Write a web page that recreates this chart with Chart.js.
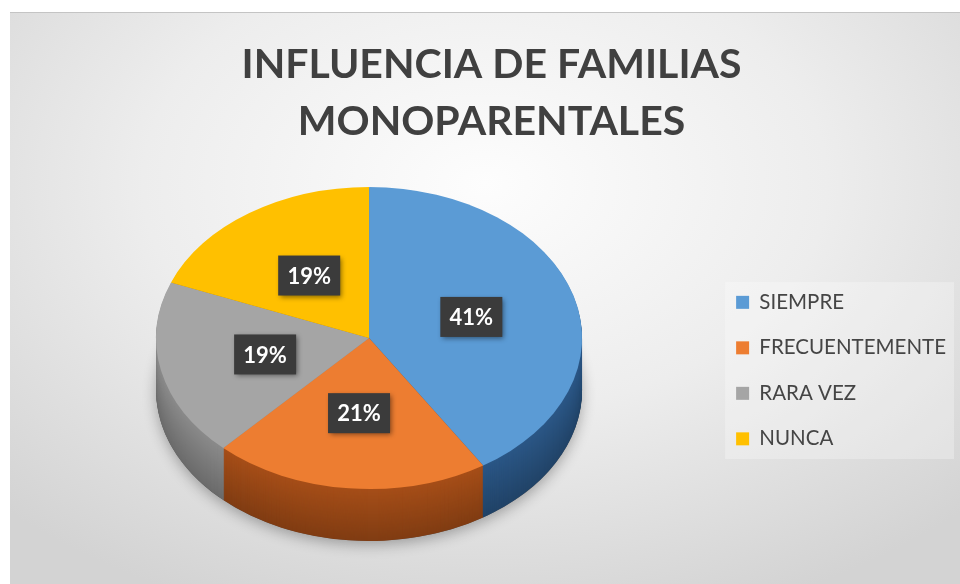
<!DOCTYPE html>
<html><head><meta charset="utf-8">
<script src="https://cdn.jsdelivr.net/npm/chart.js@4.4.1/dist/chart.umd.min.js"></script>
<style>
html,body{margin:0;padding:0;background:#fff;width:960px;height:584px;overflow:hidden;}
#panel{position:absolute;left:10px;top:12px;width:950px;height:572px;
 background:radial-gradient(ellipse 72% 80% at 50% 30%, #fdfdfd 0%, #ededed 50%, #d3d3d3 100%);
 box-shadow: inset 0 1px 0 #c4c4c4;}
canvas{display:block}
</style></head><body>
<div id="panel"><canvas id="c" width="950" height="572"></canvas></div>
<script>
const categories = ['SIEMPRE', 'FRECUENTEMENTE', 'RARA VEZ', 'NUNCA'];
const percentages = [41, 21, 19, 19];
const titleLines = ['INFLUENCIA DE FAMILIAS', 'MONOPARENTALES'];
const topColors = ['#5B9BD5', '#ED7D31', '#A5A5A5', '#FFC000'];
const sideColors = ['#274F7A', '#974716', '#7E7E7E', '#A67C00'];

function shade(hex, f) {
  const n = parseInt(hex.slice(1), 16);
  const r = Math.round(((n >> 16) & 255) * f), g = Math.round(((n >> 8) & 255) * f), b = Math.round((n & 255) * f);
  return `rgb(${r},${g},${b})`;
}

const pie3d = {
  id: 'pie3d',
  beforeDatasetsDraw(chart, args, opts) {
    const arcs = chart.getDatasetMeta(0).data;
    const ctx = chart.ctx;
    ctx.save();
    if (!arcs.length) return;
    const {x, y, outerRadius} = arcs[0];
    const k = opts.tilt, depth = opts.depth;
    ctx.translate(x, y - depth / 2);
    ctx.scale(1, k);
    ctx.translate(-x, -y);
    ctx.save();
    ctx.translate(0, depth / k);
    ctx.shadowColor = 'rgba(0,0,0,0.3)';
    ctx.shadowBlur = 14;
    ctx.shadowOffsetY = 4;
    ctx.beginPath();
    ctx.arc(x, y, outerRadius, 0, Math.PI * 2);
    ctx.fillStyle = '#555';
    ctx.fill();
    ctx.restore();
    for (let d = depth; d >= 1; d--) {
      ctx.save();
      ctx.translate(0, d / k);
      const f = 1.1 - 0.25 * (d / depth);
      arcs.forEach((a, i) => {
        ctx.beginPath();
        ctx.moveTo(a.x, a.y);
        ctx.arc(a.x, a.y, a.outerRadius, a.startAngle, a.endAngle);
        ctx.closePath();
        ctx.fillStyle = shade(sideColors[i], f);
        ctx.fill();
      });
      ctx.restore();
    }
  },
  afterDatasetsDraw(chart) { chart.ctx.restore(); }
};

const pctLabels = {
  id: 'pctLabels',
  afterDraw(chart) {
    const arcs = chart.getDatasetMeta(0).data;
    const ctx = chart.ctx;
    const k = chart.options.plugins.pie3d.tilt, depth = chart.options.plugins.pie3d.depth;
    arcs.forEach((a, i) => {
      const p = a.tooltipPosition();
      const vx = p.x, vy = a.y - depth / 2 + (p.y - a.y) * k;
      const w = 62, h = 40;
      ctx.save();
      ctx.shadowColor = 'rgba(0,0,0,0.45)';
      ctx.shadowBlur = 5;
      ctx.shadowOffsetX = 2;
      ctx.shadowOffsetY = 2;
      ctx.fillStyle = '#3b3b3b';
      ctx.fillRect(vx - w / 2, vy - h / 2, w, h);
      ctx.restore();
      ctx.save();
      ctx.fillStyle = '#ffffff';
      ctx.font = 'bold 22px Lato';
      ctx.textAlign = 'center';
      ctx.textBaseline = 'middle';
      ctx.fillText(percentages[i] + '%', vx, vy + 1);
      ctx.restore();
    });
  }
};

const legendBg = {
  id: 'legendBg',
  beforeDraw(chart) {
    const hb = chart.legend && chart.legend.legendHitBoxes;
    if (!hb || !hb.length) return;
    const l = Math.min(...hb.map(b => b.left)) - 11;
    const r = Math.max(...hb.map(b => b.left + b.width)) + 8;
    const t = Math.min(...hb.map(b => b.top)) - 10;
    const bt = Math.max(...hb.map(b => b.top + b.height)) + 10;
    const ctx = chart.ctx;
    ctx.save();
    ctx.fillStyle = 'rgba(255,255,255,0.28)';
    ctx.fillRect(l, t, r - l, bt - t);
    ctx.restore();
  }
};

new Chart(document.getElementById('c'), {
  type: 'pie',
  data: {
    labels: categories,
    datasets: [{
      data: percentages,
      backgroundColor: topColors,
      borderWidth: 0,
      clip: false
    }]
  },
  options: {
    responsive: false,
    devicePixelRatio: 1,
    animation: false,
    events: [],
    radius: 213,
    layout: {padding: {left: 17, right: 4, top: 0, bottom: 8}},
    plugins: {
      pie3d: {tilt: 0.709, depth: 52},
      title: {
        display: true,
        text: titleLines,
        color: '#404040',
        font: {family: 'Lato', weight: 'bold', size: 41, lineHeight: 1.39},
        padding: {top: 24, bottom: 2}
      },
      legend: {
        position: 'right',
        fullSize: false,
        title: {display: true, text: '', font: {size: 1}, padding: {top: 12, bottom: 0}},
        labels: {
          boxWidth: 13, boxHeight: 13,
          color: '#454545',
          font: {family: 'Lato', size: 20.5},
          padding: 25
        }
      },
      tooltip: {enabled: false}
    }
  },
  plugins: [legendBg, pie3d, pctLabels]
});
</script>
</body></html>
